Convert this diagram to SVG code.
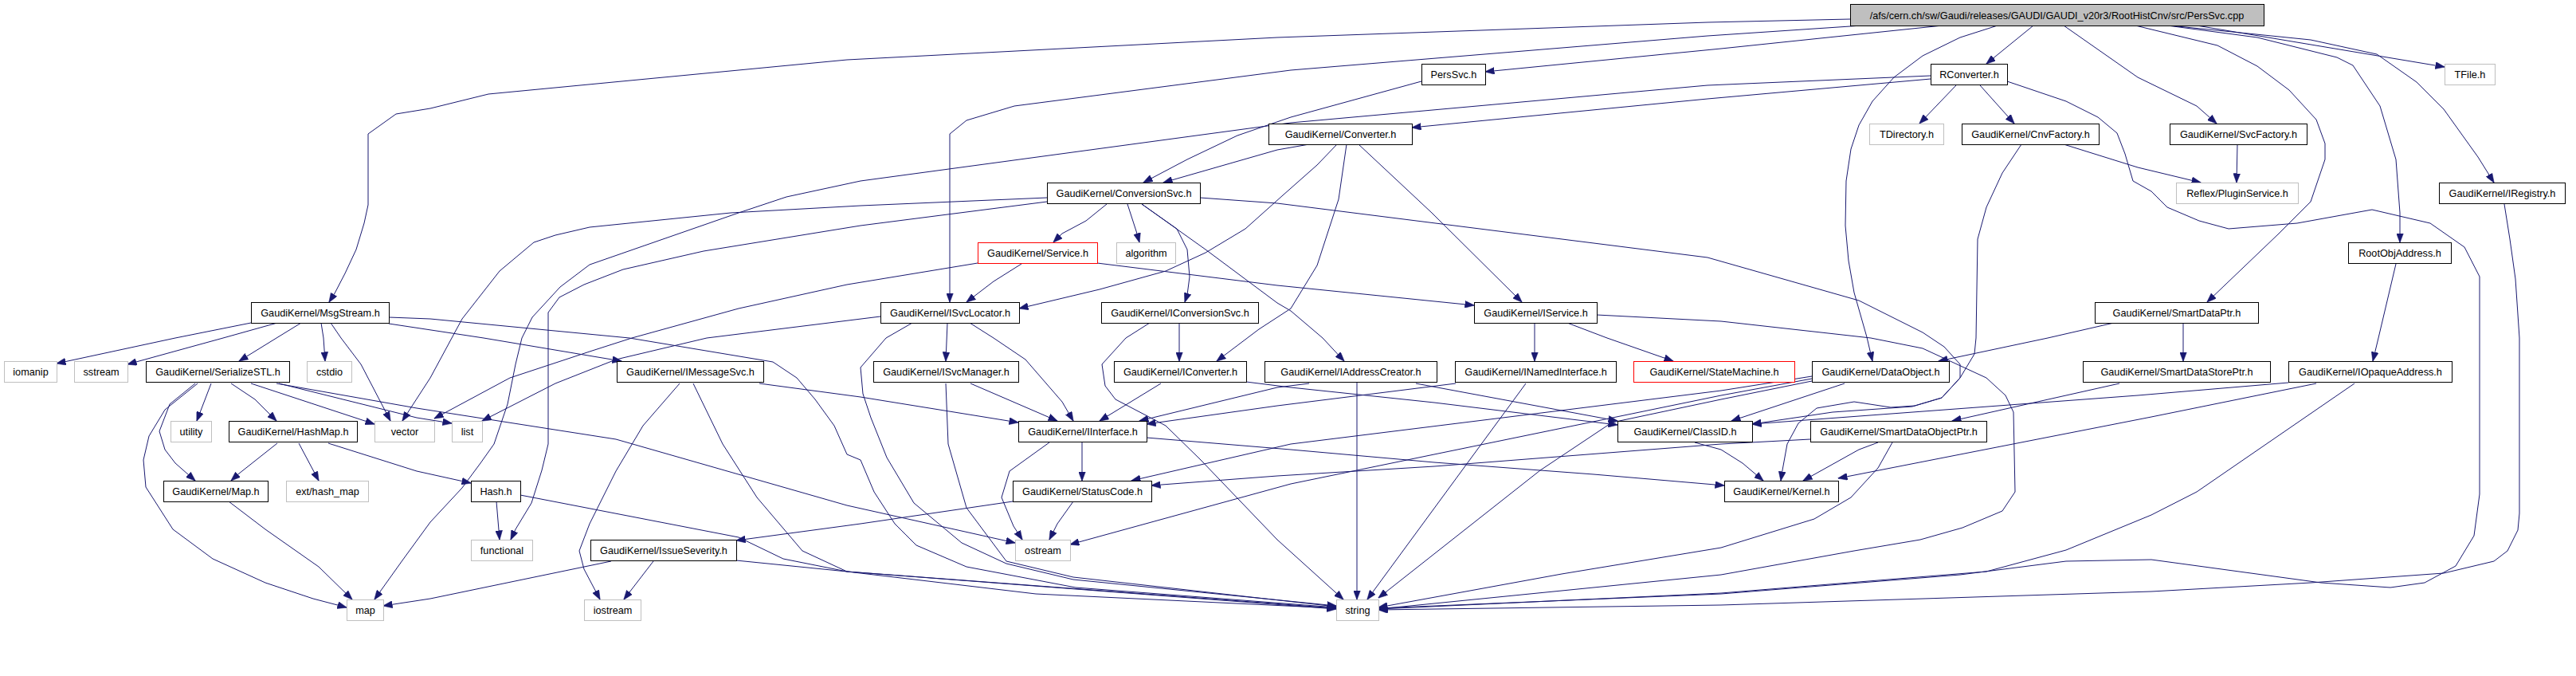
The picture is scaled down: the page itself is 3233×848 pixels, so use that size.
<svg xmlns="http://www.w3.org/2000/svg" width="3233" height="848" viewBox="0 0 3233 848">
<defs>
<style>
.node rect{fill:#fff;stroke:#000;stroke-width:1}
.node.g rect{stroke:#bfbfbf}
.node.r rect{stroke:#ff0000}
.node.root rect{fill:#bfbfbf;stroke:#000}
.node text{font-family:"Liberation Sans",Arial,sans-serif;font-size:12.7px;fill:#000;text-anchor:middle}
#edges path{fill:none;stroke:#191970;stroke-width:1;stroke-linejoin:round;marker-end:url(#ah)}
</style>
<marker id="ah" markerWidth="12" markerHeight="9" refX="11.5" refY="4.5" orient="auto" markerUnits="userSpaceOnUse"><path d="M0,0L12,4.5L0,9z" fill="#191970" stroke="#191970" stroke-width="0.5"/></marker>
</defs>
<rect width="3233" height="848" fill="#fff"/>
<g id="edges">
<path d="M2322,24 L2143,28 L1603,47 L1063,75 L613,118 L540,136 L497,143 L462,168 L462,257 L457,280 L447,313 L433,343 L420,368 L413,379"/>
<path d="M2337,32 L2143,45 L1620,88 L1273,133 L1213,151 L1192,168 L1192,379"/>
<path d="M2438,32 L2160,61 L1864,90"/>
<path d="M2552,32 L2493,80"/>
<path d="M2507,32 L2460,47 L2413,70 L2377,97 L2350,127 L2333,157 L2323,187 L2317,227 L2316,283 L2320,327 L2327,367 L2343,423 L2350,453"/>
<path d="M2590,32 L2683,97 L2757,133 L2782,155"/>
<path d="M2757,32 L3068,84"/>
<path d="M2680,32 L2783,57 L2833,83 L2873,113 L2907,150 L2918,180 L2918,200 L2900,253 L2860,293 L2770,379"/>
<path d="M2720,32 L2833,47 L2933,72 L2953,82 L2987,133 L3007,200 L3012,267 L3012,304"/>
<path d="M2723,32 L2900,50 L2983,68 L3033,103 L3067,137 L3110,197 L3130,229"/>
<path d="M1784,102 L1620,147 L1553,170 L1490,200 L1435,229"/>
<path d="M2423,99 L2143,124 L1772,160"/>
<path d="M2423,95 L2143,107 L1620,154 L1080,227 L987,247 L927,267 L740,332 L703,360 L668,398 L655,424 L647,457 L637,507 L620,557 L603,581 L580,612 L540,655 L505,703 L470,752"/>
<path d="M2455,107 L2409,155"/>
<path d="M2485,107 L2528,155"/>
<path d="M2519,102 L2593,127 L2633,147 L2657,167 L2667,193 L2677,227 L2700,240 L2720,260 L2760,277 L2797,287 L2883,280 L2977,263 L3050,280 L3093,310 L3112,347 L3112,620 L3105,672 L3082,710 L3043,731 L3000,737 L2913,731 L2700,702 L2593,704 L2460,721 L2160,745 L1730,763"/>
<path d="M2590,181 L2683,210 L2762,229"/>
<path d="M2537,181 L2513,217 L2493,260 L2482,300 L2480,424 L2478,444 L2460,474 L2437,499 L2400,510 L2300,517 L2199,532"/>
<path d="M2808,181 L2807,229"/>
<path d="M1389,256 L1363,277 L1333,293 L1322,304"/>
<path d="M1415,256 L1427,293 L1430,304"/>
<path d="M1433,256 L1477,287 L1490,313 L1493,347 L1490,370 L1487,379"/>
<path d="M1433,256 L1513,313 L1603,380 L1620,390 L1660,424 L1687,453"/>
<path d="M1314,248 L1080,258 L917,267 L740,285 L697,295 L670,304 L627,340 L580,400 L567,424 L540,474 L505,528"/>
<path d="M1314,253 L1080,283 L883,315 L782,338 L733,357 L702,373 L688,392 L688,557 L680,590 L667,631 L647,664 L641,677"/>
<path d="M1506,248 L1603,255 L2143,323 L2333,377 L2413,417 L2440,435 L2460,457 L2460,474 L2437,499 L2403,509 L2373,511 L2327,504 L2280,512 L2257,531 L2243,557 L2237,590 L2235,603"/>
<path d="M1643,181 L1603,188 L1460,229"/>
<path d="M1678,181 L1653,207 L1610,245 L1563,287 L1513,317 L1463,340 L1380,363 L1279,387"/>
<path d="M1690,181 L1680,250 L1653,333 L1620,387 L1580,413 L1527,453"/>
<path d="M1705,181 L1797,267 L1910,379"/>
<path d="M1282,331 L1247,353 L1213,379"/>
<path d="M1377,330 L1603,358 L1850,383"/>
<path d="M1227,330 L1063,357 L927,387 L793,424 L740,441 L640,474 L545,525"/>
<path d="M315,405 L220,424 L71,456"/>
<path d="M348,405 L280,424 L160,457"/>
<path d="M378,405 L347,424 L300,453"/>
<path d="M403,405 L406,424 L408,453"/>
<path d="M415,405 L428,424 L453,457 L490,528"/>
<path d="M488,406 L607,424 L780,453"/>
<path d="M488,398 L540,400 L790,424 L970,454 L1000,474 L1023,501 L1047,534 L1063,570 L1080,577 L1097,617 L1123,657 L1150,684 L1213,711 L1350,737 L1677,762"/>
<path d="M1105,397 L887,424 L773,451 L697,481 L605,528"/>
<path d="M1145,405 L1112,424 L1080,461 L1083,494 L1093,524 L1113,574 L1147,631 L1207,681 L1263,707 L1347,727 L1677,760"/>
<path d="M1189,405 L1187,453"/>
<path d="M1217,405 L1247,424 L1287,451 L1333,504 L1347,528"/>
<path d="M1480,405 L1480,453"/>
<path d="M1443,405 L1413,424 L1383,457 L1387,484 L1400,501 L1463,534 L1507,577 L1603,677 L1686,752"/>
<path d="M1926,405 L1926,453"/>
<path d="M1967,405 L2017,424 L2100,453"/>
<path d="M2004,395 L2160,403 L2348,424 L2413,437 L2493,474 L2517,496 L2527,517 L2529,617 L2513,641 L2463,662 L2410,677 L2327,691 L2160,721 L1730,764"/>
<path d="M2653,405 L2570,424 L2433,453"/>
<path d="M2740,405 L2740,453"/>
<path d="M3007,331 L2985,424 L2978,453"/>
<path d="M3143,256 L3150,300 L3157,350 L3162,424 L3162,644 L3160,665 L3147,691 L3130,704 L3067,719 L2900,731 L2700,742 L2160,759 L1730,765"/>
<path d="M853,481 L807,534 L773,591 L740,657 L727,691 L733,714 L753,752"/>
<path d="M870,481 L907,557 L950,624 L1007,691 L1063,717 L1300,745 L1677,763"/>
<path d="M953,481 L1080,498 L1278,530"/>
<path d="M1218,481 L1327,528"/>
<path d="M1187,481 L1190,557 L1213,637 L1263,704 L1347,724 L1677,761"/>
<path d="M1457,481 L1380,528"/>
<path d="M1564,479 L1620,486 L1800,505 L2030,533"/>
<path d="M1643,481 L1603,486 L1430,528"/>
<path d="M1703,480 L1703,752"/>
<path d="M1777,481 L2030,528"/>
<path d="M1827,481 L1603,509 L1439,532"/>
<path d="M1915,481 L1716,752"/>
<path d="M1358,555 L1358,603"/>
<path d="M1317,555 L1267,591 L1257,624 L1272,660 L1283,677"/>
<path d="M1439,549 L1620,564 L1800,580 L2000,595 L2164,609"/>
<path d="M1347,629 L1327,657 L1317,677"/>
<path d="M1271,629 L1080,657 L924,678"/>
<path d="M2127,555 L2160,564 L2187,581 L2213,603"/>
<path d="M2315,481 L2173,528"/>
<path d="M2274,472 L2160,490 L1620,557 L1420,603"/>
<path d="M2274,478 L2160,501 L2023,530 L1933,590 L1730,750"/>
<path d="M2274,475 L2160,496 L1620,607 L1343,683"/>
<path d="M2272,551 L2160,557 L1800,585 L1603,597 L1445,609"/>
<path d="M2357,555 L2333,564 L2263,603"/>
<path d="M2375,555 L2357,587 L2323,624 L2277,651 L2160,687 L1960,720 L1730,762"/>
<path d="M2660,481 L2450,528"/>
<path d="M2872,480 L2683,496 L2199,532"/>
<path d="M2907,481 L2700,523 L2307,600"/>
<path d="M2955,481 L2757,617 L2700,646 L2593,690 L2493,717 L2160,744 L1730,764"/>
<path d="M315,481 L470,532"/>
<path d="M350,481 L523,524 L567,531"/>
<path d="M347,481 L523,512 L773,551 L1063,634 L1274,681"/>
<path d="M265,481 L247,528"/>
<path d="M290,481 L320,501 L347,528"/>
<path d="M245,481 L213,507 L200,541 L207,564 L220,581 L245,603"/>
<path d="M248,481 L207,514 L187,547 L180,577 L183,611 L217,664 L267,701 L333,731 L393,751 L435,762"/>
<path d="M348,556 L300,594 L290,603"/>
<path d="M375,556 L400,603"/>
<path d="M412,556 L523,591 L591,606"/>
<path d="M287,629 L333,664 L400,711 L442,752"/>
<path d="M623,629 L627,677"/>
<path d="M653,621 L927,674 L983,701 L1063,717 L1677,763"/>
<path d="M820,704 L783,752"/>
<path d="M767,704 L540,751 L481,760"/>
<path d="M924,703 L1063,717 L1677,764"/>
</g>
<g id="n_root" class="node root"><rect x="2322.5" y="5.5" width="519" height="27"/><text x="2581.5" y="24">/afs/cern.ch/sw/Gaudi/releases/GAUDI/GAUDI_v20r3/RootHistCnv/src/PersSvc.cpp</text></g>
<g id="n_PersSvc" class="node"><rect x="1784.5" y="80.5" width="80" height="26"/><text x="1824.5" y="98">PersSvc.h</text></g>
<g id="n_RConverter" class="node"><rect x="2423.5" y="80.5" width="96" height="26"/><text x="2471.5" y="98">RConverter.h</text></g>
<g id="n_TFile" class="node g"><rect x="3068.5" y="80.5" width="63" height="26"/><text x="3100" y="98">TFile.h</text></g>
<g id="n_Converter" class="node"><rect x="1592.5" y="155.5" width="180" height="26"/><text x="1682.5" y="173">GaudiKernel/Converter.h</text></g>
<g id="n_TDirectory" class="node g"><rect x="2346.5" y="155.5" width="93" height="26"/><text x="2393" y="173">TDirectory.h</text></g>
<g id="n_CnvFactory" class="node"><rect x="2462.5" y="155.5" width="172" height="26"/><text x="2548.5" y="173">GaudiKernel/CnvFactory.h</text></g>
<g id="n_SvcFactory" class="node"><rect x="2723.5" y="155.5" width="172" height="26"/><text x="2809.5" y="173">GaudiKernel/SvcFactory.h</text></g>
<g id="n_ConversionSvc" class="node"><rect x="1314.5" y="229.5" width="192" height="26"/><text x="1410.5" y="247">GaudiKernel/ConversionSvc.h</text></g>
<g id="n_PluginService" class="node g"><rect x="2731.5" y="229.5" width="153" height="26"/><text x="2808" y="247">Reflex/PluginService.h</text></g>
<g id="n_IRegistry" class="node"><rect x="3061.5" y="229.5" width="158" height="26"/><text x="3140.5" y="247">GaudiKernel/IRegistry.h</text></g>
<g id="n_Service" class="node r"><rect x="1227.5" y="304.5" width="150" height="26"/><text x="1302.5" y="322">GaudiKernel/Service.h</text></g>
<g id="n_algorithm" class="node g"><rect x="1401.5" y="304.5" width="74" height="26"/><text x="1438.5" y="322">algorithm</text></g>
<g id="n_RootObjAddress" class="node"><rect x="2947.5" y="304.5" width="129" height="26"/><text x="3012" y="322">RootObjAddress.h</text></g>
<g id="n_MsgStream" class="node"><rect x="315.5" y="379.5" width="173" height="26"/><text x="402" y="397">GaudiKernel/MsgStream.h</text></g>
<g id="n_ISvcLocator" class="node"><rect x="1105.5" y="379.5" width="174" height="26"/><text x="1192.5" y="397">GaudiKernel/ISvcLocator.h</text></g>
<g id="n_IConversionSvc" class="node"><rect x="1382.5" y="379.5" width="197" height="26"/><text x="1481" y="397">GaudiKernel/IConversionSvc.h</text></g>
<g id="n_IService" class="node"><rect x="1850.5" y="379.5" width="154" height="26"/><text x="1927.5" y="397">GaudiKernel/IService.h</text></g>
<g id="n_SmartDataPtr" class="node"><rect x="2629.5" y="379.5" width="205" height="26"/><text x="2732" y="397">GaudiKernel/SmartDataPtr.h</text></g>
<g id="n_iomanip" class="node g"><rect x="5.5" y="453.5" width="66" height="26"/><text x="38.5" y="471">iomanip</text></g>
<g id="n_sstream" class="node g"><rect x="93.5" y="453.5" width="67" height="26"/><text x="127" y="471">sstream</text></g>
<g id="n_SerializeSTL" class="node"><rect x="183.5" y="453.5" width="180" height="26"/><text x="273.5" y="471">GaudiKernel/SerializeSTL.h</text></g>
<g id="n_cstdio" class="node g"><rect x="385.5" y="453.5" width="56" height="26"/><text x="413.5" y="471">cstdio</text></g>
<g id="n_IMessageSvc" class="node"><rect x="774.5" y="453.5" width="184" height="26"/><text x="866.5" y="471">GaudiKernel/IMessageSvc.h</text></g>
<g id="n_ISvcManager" class="node"><rect x="1096.5" y="453.5" width="182" height="26"/><text x="1187.5" y="471">GaudiKernel/ISvcManager.h</text></g>
<g id="n_IConverter" class="node"><rect x="1398.5" y="453.5" width="166" height="26"/><text x="1481.5" y="471">GaudiKernel/IConverter.h</text></g>
<g id="n_IAddressCreator" class="node"><rect x="1587.5" y="453.5" width="216" height="26"/><text x="1695.5" y="471">GaudiKernel/IAddressCreator.h</text></g>
<g id="n_INamedInterface" class="node"><rect x="1826.5" y="453.5" width="202" height="26"/><text x="1927.5" y="471">GaudiKernel/INamedInterface.h</text></g>
<g id="n_StateMachine" class="node r"><rect x="2050.5" y="453.5" width="202" height="26"/><text x="2151.5" y="471">GaudiKernel/StateMachine.h</text></g>
<g id="n_DataObject" class="node"><rect x="2274.5" y="453.5" width="172" height="26"/><text x="2360.5" y="471">GaudiKernel/DataObject.h</text></g>
<g id="n_SmartDataStorePtr" class="node"><rect x="2614.5" y="453.5" width="235" height="26"/><text x="2732" y="471">GaudiKernel/SmartDataStorePtr.h</text></g>
<g id="n_IOpaqueAddress" class="node"><rect x="2872.5" y="453.5" width="205" height="26"/><text x="2975" y="471">GaudiKernel/IOpaqueAddress.h</text></g>
<g id="n_utility" class="node g"><rect x="214.5" y="528.5" width="51" height="26"/><text x="240" y="546">utility</text></g>
<g id="n_HashMap" class="node"><rect x="287.5" y="528.5" width="161" height="26"/><text x="368" y="546">GaudiKernel/HashMap.h</text></g>
<g id="n_vector" class="node g"><rect x="470.5" y="528.5" width="75" height="26"/><text x="508" y="546">vector</text></g>
<g id="n_list" class="node g"><rect x="567.5" y="528.5" width="38" height="26"/><text x="586.5" y="546">list</text></g>
<g id="n_IInterface" class="node"><rect x="1278.5" y="528.5" width="161" height="26"/><text x="1359" y="546">GaudiKernel/IInterface.h</text></g>
<g id="n_ClassID" class="node"><rect x="2030.5" y="528.5" width="169" height="26"/><text x="2115" y="546">GaudiKernel/ClassID.h</text></g>
<g id="n_SmartDataObjectPtr" class="node"><rect x="2272.5" y="528.5" width="221" height="26"/><text x="2383" y="546">GaudiKernel/SmartDataObjectPtr.h</text></g>
<g id="n_Map" class="node"><rect x="205.5" y="603.5" width="131" height="26"/><text x="271" y="621">GaudiKernel/Map.h</text></g>
<g id="n_hash_map" class="node g"><rect x="359.5" y="603.5" width="103" height="26"/><text x="411" y="621">ext/hash_map</text></g>
<g id="n_Hash" class="node"><rect x="591.5" y="603.5" width="62" height="26"/><text x="622.5" y="621">Hash.h</text></g>
<g id="n_StatusCode" class="node"><rect x="1271.5" y="603.5" width="174" height="26"/><text x="1358.5" y="621">GaudiKernel/StatusCode.h</text></g>
<g id="n_Kernel" class="node"><rect x="2164.5" y="603.5" width="143" height="26"/><text x="2236" y="621">GaudiKernel/Kernel.h</text></g>
<g id="n_functional" class="node g"><rect x="591.5" y="677.5" width="77" height="26"/><text x="630" y="695">functional</text></g>
<g id="n_IssueSeverity" class="node"><rect x="741.5" y="677.5" width="183" height="26"/><text x="833" y="695">GaudiKernel/IssueSeverity.h</text></g>
<g id="n_ostream" class="node g"><rect x="1274.5" y="677.5" width="69" height="26"/><text x="1309" y="695">ostream</text></g>
<g id="n_map" class="node g"><rect x="435.5" y="752.5" width="46" height="26"/><text x="458.5" y="770">map</text></g>
<g id="n_iostream" class="node g"><rect x="733.5" y="752.5" width="71" height="26"/><text x="769" y="770">iostream</text></g>
<g id="n_string" class="node g"><rect x="1677.5" y="752.5" width="53" height="26"/><text x="1704" y="770">string</text></g>
</svg>
